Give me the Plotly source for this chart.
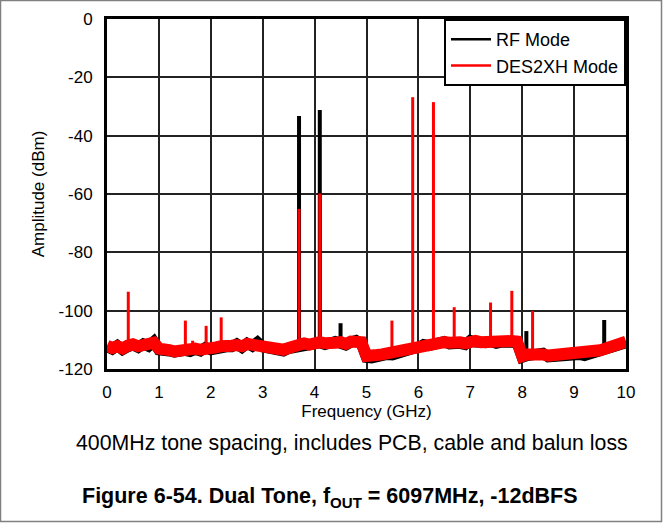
import numpy as np
import plotly.graph_objects as go

# frequency grid of the noise-floor samples (GHz)
freq = np.round(np.arange(0, 10.01, 0.1), 1)

# noise floor, one value per 0.1 GHz (dBm)
rf_floor = [
    -112.4, -113.2, -112.0, -113.4, -112.4, -111.8, -112.6, -111.4, -112.2, -110.6,
    -113.4, -114.0, -113.8, -114.2, -113.4, -113.6, -114.0, -113.2, -113.8, -112.6,
    -113.4, -112.8, -112.6, -112.4, -112.4, -111.4, -112.6, -111.2, -112.2, -110.8,
    -112.4, -112.8, -113.0, -113.4, -113.8, -113.0, -112.6, -112.0, -111.6, -111.8,
    -111.4, -111.0, -111.6, -110.8, -110.6, -111.2, -111.8, -110.8, -110.2, -111.2,
    -116.0, -116.2, -115.6, -115.4, -115.0, -115.2, -114.4, -114.0, -113.8, -113.0,
    -112.6, -111.6, -112.0, -111.6, -111.8, -110.6, -111.4, -111.0, -111.2, -111.6,
    -110.2, -110.8, -111.2, -111.0, -110.6, -111.2, -110.8, -110.4, -110.8, -111.0,
    -116.0, -115.4, -115.2, -115.6, -114.6, -115.8, -115.6, -116.0, -115.4, -115.8,
    -115.4, -115.0, -115.4, -114.8, -114.4, -114.0, -113.4, -112.8, -112.2, -111.6,
    -111.0,
]
des_floor = [
    -112.0, -112.8, -112.2, -113.0, -112.0, -111.5, -112.2, -111.6, -111.8, -111.0,
    -113.0, -113.8, -113.5, -114.0, -113.6, -113.2, -113.8, -113.0, -113.4, -112.8,
    -113.0, -112.6, -112.2, -112.6, -112.0, -111.8, -112.2, -111.4, -111.8, -111.2,
    -112.0, -112.4, -112.8, -113.0, -113.4, -112.8, -112.2, -111.8, -111.2, -111.6,
    -111.0, -110.8, -111.2, -110.6, -111.0, -110.8, -111.4, -110.6, -110.4, -110.8,
    -115.5, -115.8, -115.2, -115.0, -114.6, -114.8, -114.0, -113.6, -113.4, -112.6,
    -112.2, -112.0, -111.6, -111.2, -111.4, -110.8, -111.0, -110.6, -110.8, -111.2,
    -110.6, -110.4, -110.8, -110.6, -110.2, -110.8, -110.4, -110.0, -110.4, -110.6,
    -115.6, -115.0, -114.8, -115.2, -115.0, -115.4, -115.2, -115.6, -115.0, -115.4,
    -115.0, -114.6, -115.0, -114.4, -114.0, -113.6, -113.0, -112.4, -111.8, -111.2,
    -110.6,
]

# tones and spurs
rf_spur_freq = [3.7, 4.1, 4.5, 8.08, 9.58]
rf_spur_level = [-33.3, -31.2, -104.3, -107.0, -103.2]
des_spur_freq = [0.41, 1.51, 1.65, 1.91, 2.2, 3.7, 4.1, 5.49, 5.89, 6.29, 6.69, 7.39, 7.8, 8.2]
des_spur_level = [-93.5, -103.4, -110.3, -105.2, -102.3, -65.1, -59.8, -103.4,
                  -26.8, -28.5, -98.8, -97.2, -93.2, -100.1]

y_ticks = [0, -20, -40, -60, -80, -100, -120]
y_labels = ["0", "-20", "-40", "-60", "-80", "-100", "-120"]
x_ticks = list(range(0, 11))

FONT = "Arial, Liberation Sans, sans-serif"


def spur_lines(fs, levels, floor):
    xs, ys = [], []
    for f, lvl in zip(fs, levels):
        base = floor[int(round(f * 10))]
        xs += [f, f, None]
        ys += [base, lvl, None]
    return xs, ys


fig = go.Figure()

for floor, fs, lv, color, w, sw in [
    (rf_floor, rf_spur_freq, rf_spur_level, "black", 11, 4),
    (des_floor, des_spur_freq, des_spur_level, "#ff0000", 12, 3),
]:
    fig.add_trace(go.Scatter(x=freq, y=floor, mode="lines", showlegend=False,
                             line=dict(color=color, width=w), hoverinfo="skip"))
    sx, sy = spur_lines(fs, lv, floor)
    fig.add_trace(go.Scatter(x=sx, y=sy, mode="lines", showlegend=False,
                             line=dict(color=color, width=sw), hoverinfo="skip"))

# legend entries
fig.add_trace(go.Scatter(x=[None], y=[None], mode="lines", name="RF Mode",
                         line=dict(color="black", width=2.5)))
fig.add_trace(go.Scatter(x=[None], y=[None], mode="lines", name="DES2XH Mode",
                         line=dict(color="#ff0000", width=2.5)))

fig.update_xaxes(range=[0, 10], tickvals=x_ticks, showgrid=True, gridcolor="#222",
                 gridwidth=1.5, zeroline=False, showline=True, mirror=True,
                 linecolor="black", linewidth=3, ticks="", ticklabelstandoff=6,
                 automargin=False, tickfont=dict(size=17, color="black"),
                 title=dict(text="Frequency (GHz)", font=dict(size=17, color="black"), standoff=0))
fig.update_yaxes(range=[-120, 0], tickvals=y_ticks, ticktext=y_labels, showgrid=True,
                 gridcolor="#222", gridwidth=1.5, zeroline=False, showline=True, mirror=True,
                 linecolor="black", linewidth=3, ticks="", ticklabelstandoff=8,
                 automargin=False, tickfont=dict(size=17, color="black"),
                 title=dict(text="Amplitude (dBm)", font=dict(size=17, color="black"), standoff=10))

fig.update_layout(
    width=663, height=523,
    margin=dict(l=107, r=37, t=19, b=154, autoexpand=False),
    paper_bgcolor="white", plot_bgcolor="white",
    font=dict(family=FONT, color="black"),
    legend=dict(x=1, y=1, xanchor="right", yanchor="top", bgcolor="white",
                bordercolor="black", borderwidth=2, font=dict(size=18),
                tracegroupgap=0, itemwidth=40),
    annotations=[
        dict(text="400MHz tone spacing, includes PCB, cable and balun loss",
             xref="paper", yref="paper", x=0.472, y=-0.211, xanchor="center",
             yanchor="middle", showarrow=False, font=dict(size=21.3, color="black")),
        dict(text="<b>Figure 6-54. Dual Tone, f<sub>OUT</sub> = 6097MHz, -12dBFS</b>",
             xref="paper", yref="paper", x=0.43, y=-0.366, xanchor="center",
             yanchor="middle", showarrow=False, font=dict(size=21.5, color="black")),
    ],
    shapes=[dict(type="rect", xref="paper", yref="paper",
                 x0=(0.5 - 107) / 519, x1=(661.5 - 107) / 519,
                 y0=(369 - 521.5) / 350, y1=(369 - 0.5) / 350,
                 line=dict(color="#808080", width=1.5), layer="below")],
)

fig.write_html("out.html", config={"displayModeBar": False},
               post_script="document.body.style.margin='0';")
